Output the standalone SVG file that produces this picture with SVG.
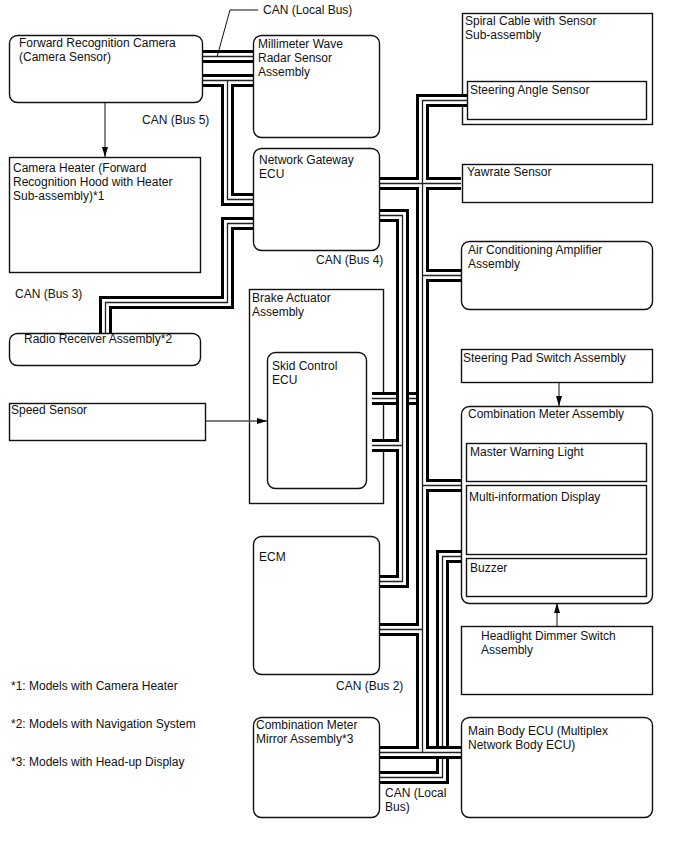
<svg xmlns="http://www.w3.org/2000/svg" width="688" height="852" viewBox="0 0 688 852">
<style>
text{font-family:"Liberation Sans",Arial,sans-serif;font-size:12px;fill:#111}
.b{fill:#fff;stroke:#111;stroke-width:1.4}
.n{fill:none;stroke:#111;stroke-width:1.4}
.w{fill:none;stroke-linejoin:miter}
.w1{stroke:#000;stroke-width:13}
.w2{stroke:#fff;stroke-width:7}
.w3{stroke:#222;stroke-width:1.3}
.a{stroke:#111;stroke-width:1;fill:none}
.h{stroke:#555;stroke-width:1.4;fill:none}
</style>
<defs>
<marker id="ah" viewBox="0 0 10 6" refX="10" refY="3" markerWidth="10" markerHeight="6" orient="auto" markerUnits="userSpaceOnUse"><path d="M0 0L10 3L0 6z" fill="#000"/></marker>
<path id="p1" d="M190 56.500H260M190 80.500H260M227.500 80.500V199.500H260M260 223.500H227.500V302.500H105.500V340"/>
<path id="p2" d="M372 215.500H402.500V581.500H372M372 445.500H402.500"/>
<path id="p3" d="M372 398.500H422"/>
<path id="p4" d="M470 556.500H442.500V777.500H372"/>
<path id="p5" d="M372 183.500H461M467 100.500H422.500V752M461 275.500H422.500M461 485.500H422.500M372 629.500H422.500M372 752.500H461"/>
</defs>
<g id="brake"><rect class="n" x="249.500" y="289.500" width="134" height="214"/><text x="252" y="302">Brake Actuator</text><text x="252" y="316">Assembly</text></g>
<g id="spiral"><rect class="b" x="462.500" y="13.500" width="190" height="111"/><text x="465" y="25">Spiral Cable with Sensor</text><text x="465" y="39">Sub-assembly</text></g>
<g id="connectors">
<g id="bus-left"><use href="#p1" class="w w1"/><use href="#p1" class="w w2"/><use href="#p1" class="w w3"/></g>
<g id="bus-skid"><use href="#p3" class="w w1"/><use href="#p3" class="w w2"/><use href="#p3" class="w w3"/></g>
<g id="bus-a"><use href="#p2" class="w w1"/><use href="#p2" class="w w2"/><use href="#p2" class="w w3"/></g>
<g id="bus-c"><use href="#p4" class="w w1"/><use href="#p4" class="w w2"/><use href="#p4" class="w w3"/></g>
<g id="bus-b"><use href="#p5" class="w w1"/><use href="#p5" class="w w2"/><use href="#p5" class="w w3"/></g>
<path class="a" d="M258 10H230L217 57"/>
<path class="h" d="M105 102V157" marker-end="url(#ah)"/>
<path class="h" d="M205 421H267" marker-end="url(#ah)"/>
<path class="h" d="M559 382V406" marker-end="url(#ah)"/>
<path class="h" d="M557 626V603" marker-end="url(#ah)"/>
</g>
<g id="camera"><rect class="b" x="9.500" y="35.500" width="193" height="67" rx="8"/><text x="19" y="47">Forward Recognition Camera</text><text x="19" y="61">(Camera Sensor)</text></g>
<g id="radar"><rect class="b" x="253.500" y="35.500" width="126" height="102" rx="8"/><text x="258" y="48">Millimeter Wave</text><text x="258" y="62">Radar Sensor</text><text x="258" y="76">Assembly</text></g>
<g id="gateway"><rect class="b" x="253.500" y="148.500" width="126" height="102" rx="8"/><text x="259" y="164">Network Gateway</text><text x="259" y="178">ECU</text></g>
<g id="heater"><rect class="b" x="9.500" y="157.500" width="191" height="115"/><text x="13" y="172">Camera Heater (Forward</text><text x="13" y="186">Recognition Hood with Heater</text><text x="13" y="200">Sub-assembly)*1</text></g>
<g id="radio"><rect class="b" x="9.500" y="333.500" width="191" height="32" rx="8"/><text x="24" y="343">Radio Receiver Assembly*2</text></g>
<g id="skid"><rect class="b" x="267.500" y="352.500" width="99" height="136" rx="8"/><text x="272" y="370">Skid Control</text><text x="272" y="384">ECU</text></g>
<g id="speed"><rect class="b" x="9.500" y="403.500" width="196" height="37"/><text x="11" y="414">Speed Sensor</text></g>
<g id="ecm"><rect class="b" x="253.500" y="536.500" width="126" height="138" rx="8"/><text x="259" y="561">ECM</text></g>
<g id="mirror"><rect class="b" x="253.500" y="717.500" width="126" height="100" rx="8"/><text x="256" y="729">Combination Meter</text><text x="256" y="743">Mirror Assembly*3</text></g>
<g id="steering-angle"><rect class="b" x="467.500" y="81.500" width="179" height="38"/><text x="470" y="94">Steering Angle Sensor</text></g>
<g id="yawrate"><rect class="b" x="462.500" y="164.500" width="190" height="38"/><text x="467" y="176">Yawrate Sensor</text></g>
<g id="aircon"><rect class="b" x="461.500" y="241.500" width="191" height="68" rx="8"/><text x="468" y="254">Air Conditioning Amplifier</text><text x="468" y="268">Assembly</text></g>
<g id="pad"><rect class="b" x="461.500" y="349.500" width="191" height="33"/><text x="463" y="362">Steering Pad Switch Assembly</text></g>
<g id="meter"><rect class="b" x="461.500" y="406.500" width="191" height="197" rx="8"/><text x="468" y="418">Combination Meter Assembly</text>
<rect class="b" x="466.500" y="443.500" width="180" height="38"/><text x="470" y="456">Master Warning Light</text>
<rect class="b" x="466.500" y="485.500" width="180" height="69"/><text x="469" y="501">Multi-information Display</text>
<rect class="b" x="466.500" y="558.500" width="180" height="38"/><text x="470" y="572">Buzzer</text></g>
<g id="headlight"><rect class="b" x="461.500" y="626.500" width="191" height="68"/><text x="481" y="640">Headlight Dimmer Switch</text><text x="481" y="654">Assembly</text></g>
<g id="body"><rect class="b" x="461.500" y="717.500" width="191" height="100" rx="8"/><text x="468" y="735">Main Body ECU (Multiplex</text><text x="468" y="749">Network Body ECU)</text></g>
<g id="labels">
<text x="263" y="14">CAN (Local Bus)</text>
<text x="142" y="124">CAN (Bus 5)</text>
<text x="316" y="264">CAN (Bus 4)</text>
<text x="15" y="298">CAN (Bus 3)</text>
<text x="336" y="690">CAN (Bus 2)</text>
<text x="385" y="797">CAN (Local</text>
<text x="385" y="811">Bus)</text>
<text x="11" y="690">*1: Models with Camera Heater</text>
<text x="11" y="728">*2: Models with Navigation System</text>
<text x="11" y="766">*3: Models with Head-up Display</text>
</g>
</svg>
